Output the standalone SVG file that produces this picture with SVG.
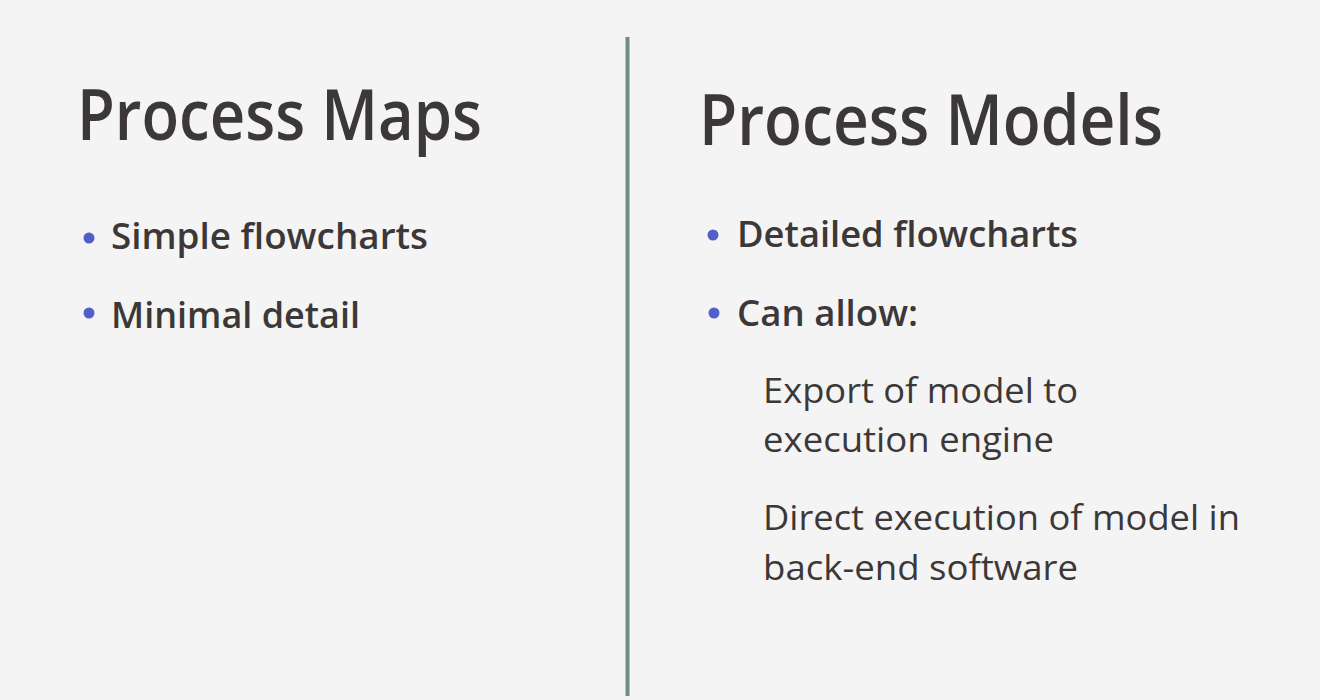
<svg xmlns="http://www.w3.org/2000/svg" width="1320" height="700" viewBox="0 0 1320 700">
<style>
text{font-family:"Open Sans","Noto Sans","Liberation Sans",sans-serif;fill:#3c3838}
.title{font-size:70px;font-weight:600}
.bullet{font-size:36px;font-weight:600}
.sub{font-size:34px;font-weight:400}
.dot{fill:#5060c8}
</style>
<rect x="0" y="0" width="1320" height="700" fill="#f4f4f4"/>
<g id="divider">
<line x1="627.5" y1="37" x2="627.5" y2="696" stroke="#6e8e85" stroke-width="4"/>
</g>
<g id="left-column">
<text class="title" x="77" y="140" textLength="405" lengthAdjust="spacingAndGlyphs">Process Maps</text>
<circle class="dot" cx="89" cy="238" r="5.5"/>
<text class="bullet" x="111" y="249" textLength="317" lengthAdjust="spacingAndGlyphs">Simple flowcharts</text>
<circle class="dot" cx="89" cy="313" r="5.5"/>
<text class="bullet" x="111" y="328" textLength="249" lengthAdjust="spacingAndGlyphs">Minimal detail</text>
</g>
<g id="right-column">
<text class="title" x="699" y="145" textLength="464" lengthAdjust="spacingAndGlyphs">Process Models</text>
<circle class="dot" cx="713" cy="235" r="5.5"/>
<text class="bullet" x="737" y="247" textLength="341" lengthAdjust="spacingAndGlyphs">Detailed flowcharts</text>
<circle class="dot" cx="714" cy="313" r="5.5"/>
<text class="bullet" x="737" y="326" textLength="181" lengthAdjust="spacingAndGlyphs">Can allow:</text>
<text class="sub" x="763" y="403" textLength="315" lengthAdjust="spacingAndGlyphs">Export of model to</text>
<text class="sub" x="763" y="452" textLength="291" lengthAdjust="spacingAndGlyphs">execution engine</text>
<text class="sub" x="763" y="530" textLength="477" lengthAdjust="spacingAndGlyphs">Direct execution of model in</text>
<text class="sub" x="763" y="580" textLength="315" lengthAdjust="spacingAndGlyphs">back-end software</text>
</g>
</svg>
